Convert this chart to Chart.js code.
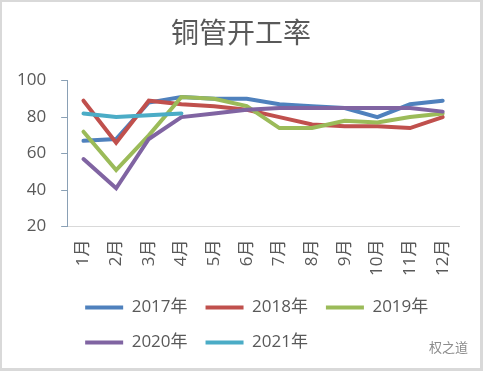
<!DOCTYPE html>
<html>
<head>
<meta charset="utf-8">
<script src="https://cdn.jsdelivr.net/npm/chart.js@4/dist/chart.umd.min.js"></script>
<style>
  html, body { margin: 0; padding: 0; background: #fff; }
  #wrap {
    position: relative;
    width: 483px; height: 371px;
    box-sizing: border-box;
    border: 2px solid #d9d9d9;
    border-right-width: 3px;
    border-bottom-width: 3px;
    background: #fff;
  }
  #mark {
    position: absolute; right: 12px; bottom: 12px;
    font: 13px "Noto Sans CJK SC", sans-serif; color: #8c8c8c;
  }
</style>
</head>
<body>
<div id="wrap">
  <canvas id="chart" width="478" height="366"></canvas>
  <div id="mark">权之道</div>
</div>
<script>
document.addEventListener("DOMContentLoaded", function () {

  const months = ["1月", "2月", "3月", "4月", "5月", "6月", "7月", "8月", "9月", "10月", "11月", "12月"];
  const y2017 = [67, 68, 88, 91, 90, 90, 87, 86, 85, 80, 87, 89];
  const y2018 = [89, 66, 89, 87, 86, 84, 80, 76, 75, 75, 74, 80];
  const y2019 = [72, 51, 70, 91, 90, 86, 74, 74, 78, 77, 80, 82];
  const y2020 = [57, 41, 68, 80, 82, 84, 85, 85, 85, 85, 85, 83];
  const y2021 = [82, 80, 81, 82];
  const yTicks = [20, 40, 60, 80, 100];

  const textColor = "#595959";
  const font = "'Open Sans', 'Noto Sans CJK SC', sans-serif";

  function series(label, data, color, order) {
    return {
      label: label,
      data: data,
      borderColor: color,
      backgroundColor: color,
      borderWidth: 4,
      borderCapStyle: "round",
      pointRadius: 0,
      tension: 0,
      order: order
    };
  }

  new Chart(document.getElementById("chart"), {
    type: "line",
    data: {
      labels: months,
      datasets: [
        series("2017年", y2017, "#4F81BD", 5),
        series("2018年", y2018, "#C0504D", 4),
        series("2019年", y2019, "#9BBB59", 3),
        series("2020年", y2020, "#8064A2", 2),
        series("2021年", y2021, "#4BACC6", 1)
      ]
    },
    options: {
      responsive: false,
      animation: false,
      layout: { padding: { left: 0, right: 0, top: 0, bottom: 7 } },
      plugins: {
        title: {
          display: true,
          text: "铜管开工率",
          color: textColor,
          font: { family: "'Noto Sans CJK SC', sans-serif", size: 28, weight: "normal" },
          padding: { top: 14, bottom: 31 }
        },
        legend: {
          position: "bottom",
          align: "start",
          fullSize: false,
          labels: {
            sort: function (a, b) { return a.datasetIndex - b.datasetIndex; },
            color: textColor,
            font: { family: font, size: 17 },
            usePointStyle: true,
            pointStyle: "line",
            pointStyleWidth: 38,
            padding: 18
          }
        },
        tooltip: { enabled: false }
      },
      scales: {
        x: {
          offset: true,
          grid: { display: false },
          border: { color: "#d9d9d9", width: 1 },
          ticks: {
            color: textColor,
            font: { family: font, size: 17 },
            minRotation: 90,
            maxRotation: 90,
            padding: 5
          }
        },
        y: {
          min: 20,
          max: 100,
          afterBuildTicks: function (axis) {
            axis.ticks = yTicks.map(function (v) { return { value: v }; });
          },
          grid: {
            drawOnChartArea: false,
            tickLength: 6,
            color: "#8aa0b5"
          },
          border: { color: "#8aa0b5", width: 1 },
          ticks: {
            color: textColor,
            font: { family: font, size: 17 },
            padding: 15
          }
        },
        // empty right-hand spacer so the title stays centred on the canvas
        spacer: {
          type: "linear",
          position: "right",
          grid: { display: false },
          border: { display: false },
          ticks: { display: false },
          afterFit: function (axis) { axis.width = 21; }
        }
      }
    }
  });

});
</script>
</body>
</html>
